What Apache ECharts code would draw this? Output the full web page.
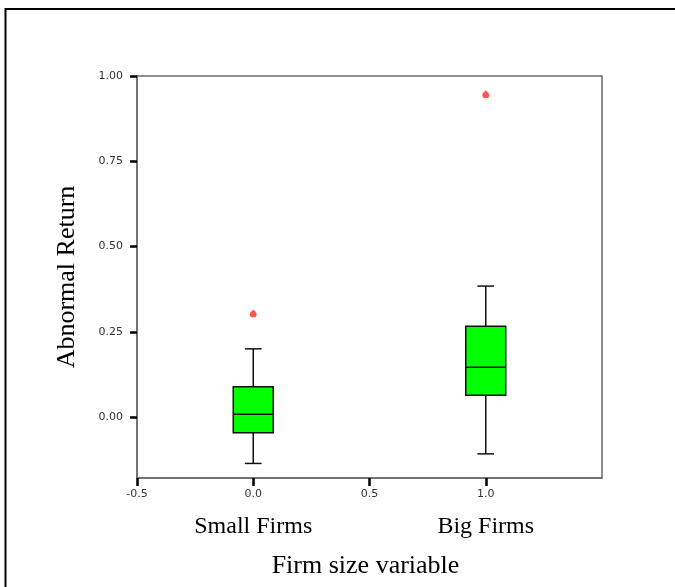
<!DOCTYPE html>
<html>
<head>
<meta charset="utf-8">
<script src="https://cdn.jsdelivr.net/npm/echarts@6/dist/echarts.min.js"></script>
<style>
  html, body { margin: 0; padding: 0; background: #fff; }
  #chart { width: 675px; height: 587px; }
</style>
</head>
<body>
<div id="chart"></div>
<script>
// groups on the x axis (firm size dummy)
const groupX = [0, 1];
const groupNames = ['Small Firms', 'Big Firms'];
// box statistics
const whiskerLow = [-0.136, -0.108];
const q1 = [-0.046, 0.064];
const median = [0.008, 0.146];
const q3 = [0.089, 0.266];
const whiskerHigh = [0.200, 0.384];
// outliers [x, y]
const outlierX = [0, 1];
const outlierY = [0.304, 0.947];
// tick labels
const yTicks = [0, 0.25, 0.5, 0.75, 1.0];
const xTicks = [-0.5, 0, 0.5, 1.0];

const boxRows = groupX.map((x, i) => [x, whiskerLow[i], q1[i], median[i], q3[i], whiskerHigh[i]]);
const outlierRows = outlierX.map((x, i) => [x, outlierY[i]]);

function renderBox(params, api) {
  const x = api.value(0);
  const pLow = api.coord([x, api.value(1)]);
  const pQ1 = api.coord([x, api.value(2)]);
  const pMed = api.coord([x, api.value(3)]);
  const pQ3 = api.coord([x, api.value(4)]);
  const pHigh = api.coord([x, api.value(5)]);
  const halfBox = api.size([0.086, 0])[0];
  const halfCap = api.size([0.036, 0])[0];
  const cx = pMed[0];
  const lineStyle = { stroke: '#111', lineWidth: 1.5 };
  return {
    type: 'group',
    children: [
      { type: 'line', shape: { x1: cx, y1: pLow[1], x2: cx, y2: pQ1[1] }, style: lineStyle },
      { type: 'line', shape: { x1: cx, y1: pQ3[1], x2: cx, y2: pHigh[1] }, style: lineStyle },
      { type: 'line', shape: { x1: cx - halfCap, y1: pLow[1], x2: cx + halfCap, y2: pLow[1] }, style: lineStyle },
      { type: 'line', shape: { x1: cx - halfCap, y1: pHigh[1], x2: cx + halfCap, y2: pHigh[1] }, style: lineStyle },
      { type: 'rect', shape: { x: cx - halfBox, y: pQ3[1], width: halfBox * 2, height: pQ1[1] - pQ3[1] },
        style: { fill: '#00ff00', stroke: '#111', lineWidth: 1.5 } },
      { type: 'line', shape: { x1: cx - halfBox, y1: pMed[1], x2: cx + halfBox, y2: pMed[1] }, style: lineStyle }
    ]
  };
}

const chart = echarts.init(document.getElementById('chart'));
const smallFont = { fontFamily: 'DejaVu Sans', fontSize: 11, color: '#333' };

chart.setOption({
  animation: false,
  backgroundColor: '#fff',
  graphic: [{
    type: 'rect',
    shape: { x: 5.5, y: 9, width: 720, height: 640 },
    style: { fill: 'none', stroke: '#000', lineWidth: 2 },
    z: 100
  }],
  grid: {
    left: 137, top: 76, width: 465, height: 402,
    show: true, borderColor: '#6a6a6a', borderWidth: 1.5, backgroundColor: '#fff'
  },
  xAxis: [{
    type: 'value',
    min: -0.5, max: 1.5, interval: 0.5,
    splitLine: { show: false },
    axisLine: { onZero: false, lineStyle: { color: '#6a6a6a', width: 1.5 } },
    axisTick: { customValues: xTicks, length: 8, lineStyle: { color: '#000', width: 2.5 } },
    axisLabel: {
      customValues: xTicks, margin: 11, ...smallFont,
      formatter: v => v.toFixed(1)
    },
    name: 'Firm size variable',
    nameLocation: 'middle',
    nameGap: 75,
    nameTextStyle: { fontFamily: 'Liberation Serif, Times New Roman', fontSize: 26, color: '#000', padding: [0, 8, 0, 0] }
  }, {
    type: 'value',
    position: 'bottom',
    min: -0.5, max: 1.5,
    splitLine: { show: false },
    axisLine: { show: false },
    axisTick: { show: false },
    axisLabel: {
      customValues: groupX, margin: 37,
      fontFamily: 'Liberation Serif, Times New Roman', fontSize: 24, color: '#000',
      formatter: v => groupNames[groupX.indexOf(v)] || ''
    }
  }],
  yAxis: {
    type: 'value',
    min: -0.1787, max: 1.0,
    splitLine: { show: false },
    axisLine: { onZero: false, lineStyle: { color: '#6a6a6a', width: 1.5 } },
    axisTick: { customValues: yTicks, length: 7, lineStyle: { color: '#000', width: 2.5 } },
    axisLabel: {
      customValues: yTicks, margin: 14, ...smallFont,
      formatter: v => v.toFixed(2)
    },
    name: 'Abnormal Return',
    nameLocation: 'middle',
    nameGap: 57,
    nameTextStyle: { fontFamily: 'Liberation Serif, Times New Roman', fontSize: 26, color: '#000' }
  },
  series: [{
    type: 'custom',
    renderItem: renderBox,
    data: boxRows,
    encode: { x: 0, y: [1, 2, 3, 4, 5] },
    clip: false
  }, {
    type: 'scatter',
    data: outlierRows,
    symbol: 'path://M5,0 C6,3 10,5 10,9 A5,5 0 1 1 0,9 C0,5 4,3 5,0 Z',
    symbolSize: [7, 8],
    itemStyle: { color: '#ff2a2a' }
  }]
});
</script>
</body>
</html>
